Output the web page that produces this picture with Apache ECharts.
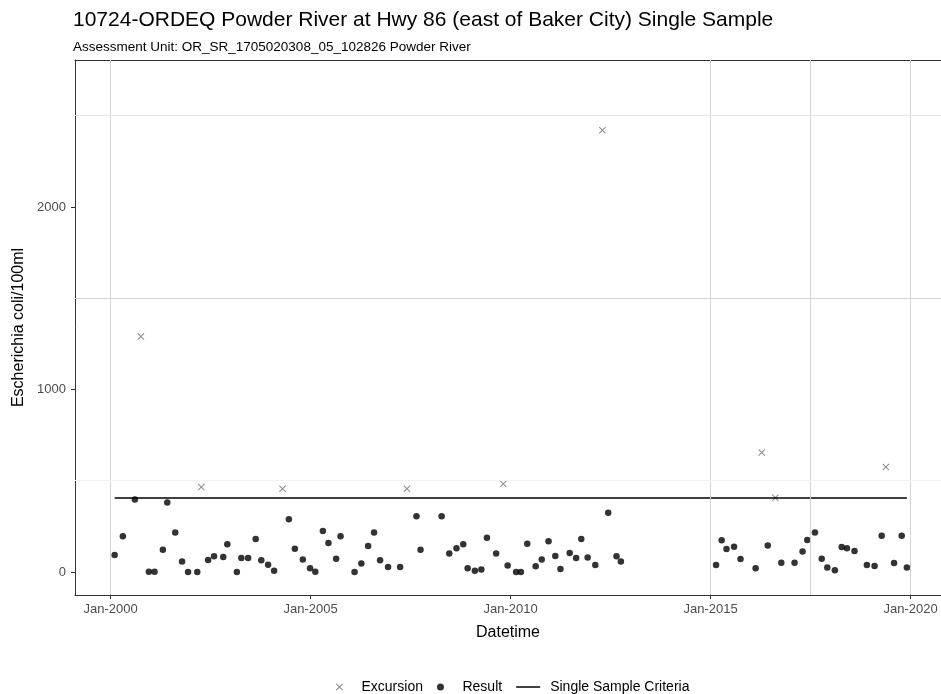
<!DOCTYPE html>
<html>
<head>
<meta charset="utf-8">
<title>Powder River E. coli</title>
<script src="https://cdn.jsdelivr.net/npm/echarts@6/dist/echarts.min.js"></script>
<style>
	html, body { margin: 0; padding: 0; background: #fff; }
	#main { width: 941px; height: 694px; }
</style>
</head>
<body>
<div id="main"></div>
<script>
//采样日期与结果
var resultDates = ['2000-02-07','2000-04-22','2000-08-10','2000-12-16','2001-02-06','2001-04-23','2001-06-02','2001-08-14','2001-10-15','2001-12-09',
	'2002-03-03','2002-06-10','2002-08-03','2002-10-26','2002-12-02','2003-02-27','2003-04-09','2003-06-10','2003-08-18','2003-10-08',
	'2003-12-09','2004-02-02','2004-06-16','2004-08-10','2004-10-22','2004-12-27','2005-02-13','2005-04-23','2005-06-13','2005-08-22',
	'2005-10-01','2006-02-06','2006-04-09','2006-06-10','2006-08-03','2006-09-27','2006-12-09','2007-03-29','2007-08-25','2007-10-01',
	'2008-04-11','2008-06-20','2008-08-25','2008-10-26','2008-12-05','2009-02-09','2009-04-09','2009-05-30','2009-08-22','2009-12-05',
	'2010-02-20','2010-04-05','2010-06-02','2010-08-18','2010-10-12','2010-12-13','2011-02-13','2011-04-01','2011-06-24','2011-08-22',
	'2011-10-08','2011-12-05','2012-02-13','2012-06-10','2012-08-25','2012-10-04','2015-02-20','2015-04-12','2015-05-26','2015-08-03',
	'2015-10-01','2016-02-16','2016-06-06','2016-10-08','2017-02-06','2017-04-20','2017-06-02','2017-08-11','2017-10-12','2017-12-02',
	'2018-02-09','2018-04-12','2018-05-30','2018-08-07','2018-11-28','2019-02-06','2019-04-12','2019-08-03','2019-10-12','2019-11-28'];
var resultValues = [93,196,397,2,2,122,381,216,58,0,
	0,66,86,82,152,0,77,77,181,64,
	40,7,289,128,68,20,2,225,159,73,
	196,0,47,143,216,64,27,27,306,122,
	306,102,130,152,20,7,14,187,102,35,
	0,0,155,31,69,168,88,16,104,77,
	181,79,38,324,86,57,38,174,126,139,
	71,20,145,51,51,112,176,216,73,24,
	9,137,130,115,38,33,199,49,198,24];

//超标样本
var excursionDates = ['2000-10-04','2002-04-09','2004-04-19','2007-05-30','2009-10-26','2012-04-18','2016-04-12','2016-08-14','2019-05-20'];
var excursionValues = [1290,465,456,456,483,2420,655,407,575];

//单样本标准
var criteriaValue = 406;

//坐标轴刻度
var xTickYears = [2000, 2005, 2010, 2015, 2020];
var yTickValues = [0, 1000, 2000];

var fontName = 'Liberation Sans, Arial, sans-serif';
var crossPath = 'path://M0,1L1,0L5,4L9,0L10,1L6,5L10,9L9,10L5,6L1,10L0,9L4,5Z';
var linePath = 'path://M0,0L24,0L24,1.5L0,1.5Z';

//日期转小数年
function toYear(s){
	var p = s.split('-');
	var y = parseInt(p[0], 10);
	var start = Date.UTC(y, 0, 1);
	var end = Date.UTC(y + 1, 0, 1);
	var d = Date.UTC(y, parseInt(p[1], 10) - 1, parseInt(p[2], 10));
	return y + (d - start) / (end - start);
}

function pairs(dates, values){
	var out = [];
	for (var i = 0; i < dates.length; i++) {
		out.push([toYear(dates[i]), values[i]]);
	}
	return out;
}

init();

function init(){
	var resultData = pairs(resultDates, resultValues);
	var excursionData = pairs(excursionDates, excursionValues);
	var firstYear = resultData[0][0];
	var lastYear = resultData[resultData.length - 1][0];

	var myChart = echarts.init(document.getElementById('main'));
	var option = {
		backgroundColor: '#fff',
		animation: false,
		textStyle: { fontFamily: fontName },
		title: {
			text: '10724-ORDEQ Powder River at Hwy 86 (east of Baker City) Single Sample',
			subtext: 'Assessment Unit: OR_SR_1705020308_05_102826 Powder River',
			left: 68,
			top: 5,
			itemGap: 9,
			textStyle: { fontFamily: fontName, fontSize: 21, fontWeight: 'normal', color: '#000' },
			subtextStyle: { fontFamily: fontName, fontSize: 13.5, color: '#000' }
		},
		legend: {
			data: [
				{ name: 'Excursion', icon: crossPath },
				{ name: 'Result', icon: 'circle' },
				{ name: 'Single Sample Criteria', icon: linePath }
			],
			left: 331,
			top: 675,
			itemWidth: 24,
			itemHeight: 7,
			itemGap: 14,
			textStyle: { fontFamily: fontName, fontSize: 14, color: '#000', padding: [0, 0, 0, 5] }
		},
		grid: {
			left: 75,
			top: 60,
			right: 0,
			height: 535
		},
		xAxis: [
			{
				type: 'value',
				min: 1999.11,
				max: 2020.76,
				name: 'Datetime',
				nameLocation: 'middle',
				nameGap: 30,
				nameTextStyle: { fontFamily: fontName, fontSize: 16, color: '#000' },
				axisLine: { show: true, onZero: false, lineStyle: { color: '#333' } },
				axisTick: { show: true, length: 4, customValues: xTickYears, lineStyle: { color: '#333' } },
				axisLabel: {
					customValues: xTickYears,
					margin: 8,
					fontSize: 13,
					color: '#4d4d4d',
					formatter: function(v){ return 'Jan-' + Math.round(v); }
				},
				splitLine: { show: false }
			},
			{
				// 顶部边框
				type: 'value',
				position: 'top',
				min: 1999.11,
				max: 2020.76,
				axisLine: { show: true, onZero: false, lineStyle: { color: '#333' } },
				axisTick: { show: false },
				axisLabel: { show: false },
				splitLine: { show: false }
			}
		],
		yAxis: {
			type: 'value',
			min: -126,
			max: 2805,
			name: 'Escherichia coli/100ml',
			nameLocation: 'middle',
			nameGap: 44,
			nameTextStyle: { fontFamily: fontName, fontSize: 16, color: '#000' },
			axisLine: { show: true, onZero: false, lineStyle: { color: '#333' } },
			axisTick: { show: true, length: 4, customValues: yTickValues, lineStyle: { color: '#333' } },
			axisLabel: {
				customValues: yTickValues,
				margin: 9,
				fontSize: 13,
				color: '#4d4d4d',
				formatter: function(v){ return String(v); }
			},
			splitLine: { show: false }
		},
		series: [
			{
				// 网格线
				name: 'grid',
				type: 'scatter',
				data: [],
				silent: true,
				markLine: {
					silent: true,
					symbol: 'none',
					label: { show: false },
					lineStyle: { color: '#d4d4d4', width: 1, type: 'solid' },
					data: [
						{ xAxis: 2000 }, { xAxis: 2015 }, { xAxis: 2017.5 }, { xAxis: 2020 },
						{ yAxis: 1500 }, { yAxis: 2500, lineStyle: { color: '#e6e6e6' } },
						{ yAxis: 500, lineStyle: { color: '#f2f2f2' } }
					]
				}
			},
			{
				name: 'Single Sample Criteria',
				type: 'line',
				symbol: 'none',
				data: [[firstYear, criteriaValue], [lastYear, criteriaValue]],
				lineStyle: { color: '#000', width: 1.5 },
				itemStyle: { color: '#000' }
			},
			{
				name: 'Result',
				type: 'scatter',
				symbol: 'circle',
				symbolSize: 6.5,
				data: resultData,
				itemStyle: { color: '#000' }
			},
			{
				name: 'Excursion',
				type: 'scatter',
				symbol: crossPath,
				symbolSize: 7,
				data: excursionData,
				itemStyle: { color: '#75666c' }
			}
		]
	};
	myChart.setOption(option);
}
</script>
</body>
</html>
